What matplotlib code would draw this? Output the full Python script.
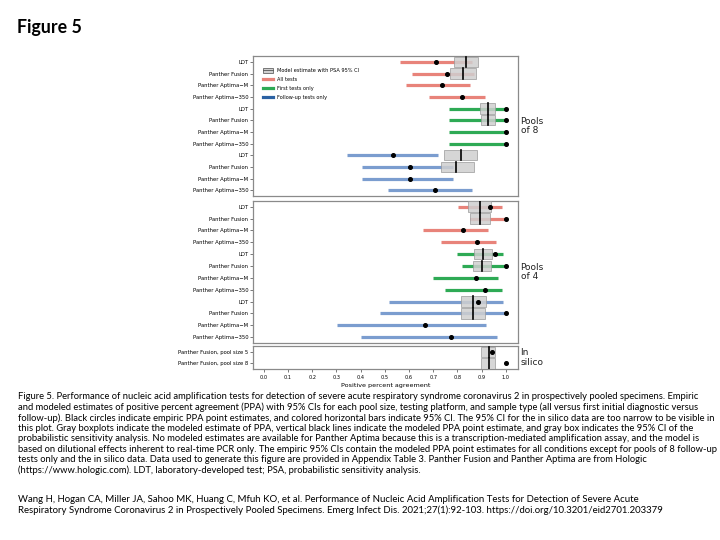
"""Figure 5: empiric vs modeled PPA by pool size, platform and sample type."""
import matplotlib
import numpy as np

matplotlib.use('Agg')
import matplotlib.pyplot as plt
from matplotlib.lines import Line2D
from matplotlib.patches import Patch

nan = np.nan

platforms = ['LDT', 'Panther Fusion', 'Panther Aptima\u2212M', 'Panther Aptima\u2212350']
groups = ['All tests', 'First tests only', 'Follow-up tests only']

# pools of 8 -- rows: all (4), first (4), follow-up (4)
p8_ci_lo = [0.562, 0.610, 0.589, 0.682, 0.763, 0.763, 0.763, 0.763, 0.342, 0.407, 0.407, 0.512]
p8_ci_hi = [0.860, 0.868, 0.852, 0.913, 1.000, 1.000, 1.000, 1.000, 0.720, 0.780, 0.780, 0.861]
p8_point = [0.712, 0.757, 0.735, 0.820, 1.000, 1.000, 1.000, 1.000, 0.533, 0.604, 0.604, 0.709]
p8_mod_lo = [0.786, 0.769, nan, nan, 0.895, 0.897, nan, nan, 0.744, 0.732, nan, nan]
p8_mod_mid = [0.834, 0.822, nan, nan, 0.928, 0.928, nan, nan, 0.815, 0.795, nan, nan]
p8_mod_hi = [0.883, 0.875, nan, nan, 0.955, 0.955, nan, nan, 0.880, 0.867, nan, nan]

# pools of 4
p4_ci_lo = [0.804, 0.853, 0.659, 0.732, 0.800, 0.819, 0.698, 0.747, 0.518, 0.478, 0.302, 0.400]
p4_ci_hi = [0.984, 1.000, 0.927, 0.961, 0.989, 1.000, 0.967, 0.982, 0.988, 1.000, 0.917, 0.964]
p4_point = [0.935, 1.000, 0.823, 0.880, 0.954, 1.000, 0.878, 0.914, 0.883, 1.000, 0.664, 0.773]
p4_mod_lo = [0.842, 0.852, nan, nan, 0.867, 0.863, nan, nan, 0.815, 0.815, nan, nan]
p4_mod_mid = [0.894, 0.894, nan, nan, 0.905, 0.902, nan, nan, 0.863, 0.863, nan, nan]
p4_mod_hi = [0.939, 0.933, nan, nan, 0.944, 0.937, nan, nan, 0.916, 0.913, nan, nan]

# in silico
sil_labels = ['Panther Fusion, pool size 5', 'Panther Fusion, pool size 8']
sil_point = [0.943, 1.000]
sil_mod_lo = [0.899, 0.899]
sil_mod_mid = [0.929, 0.929]
sil_mod_hi = [0.954, 0.954]

xticks = [0.0, 0.1, 0.2, 0.3, 0.4, 0.5, 0.6, 0.7, 0.8, 0.9, 1.0]

caption = (
    "Figure 5. Performance of nucleic acid amplification tests for detection of severe acute respiratory syndrome coronavirus 2 in prospectively pooled specimens. Empiric\n"
    "and modeled estimates of positive percent agreement (PPA) with 95% CIs for each pool size, testing platform, and sample type (all versus first initial diagnostic versus\n"
    "follow-up). Black circles indicate empiric PPA point estimates, and colored horizontal bars indicate 95% CI. The 95% CI for the in silico data are too narrow to be visible in\n"
    "this plot. Gray boxplots indicate the modeled estimate of PPA, vertical black lines indicate the modeled PPA point estimate, and gray box indicates the 95% CI of the\n"
    "probabilistic sensitivity analysis. No modeled estimates are available for Panther Aptima because this is a transcription-mediated amplification assay, and the model is\n"
    "based on dilutional effects inherent to real-time PCR only. The empiric 95% CIs contain the modeled PPA point estimates for all conditions except for pools of 8 follow-up\n"
    "tests only and the in silico data. Data used to generate this figure are provided in Appendix Table 3. Panther Fusion and Panther Aptima are from Hologic\n"
    "(https://www.hologic.com). LDT, laboratory-developed test; PSA, probabilistic sensitivity analysis."
)
citation = (
    "Wang H, Hogan CA, Miller JA, Sahoo MK, Huang C, Mfuh KO, et al. Performance of Nucleic Acid Amplification Tests for Detection of Severe Acute\n"
    "Respiratory Syndrome Coronavirus 2 in Prospectively Pooled Specimens. Emerg Infect Dis. 2021;27(1):92-103. https://doi.org/10.3201/eid2701.203379"
)

colors = ['#E8837A', '#2EAA55', '#7B9DCF']
legend_colors = ['#E8837A', '#2EAA55', '#2B62A3']
BOX_FC = '#cfcfcf'
BOX_EC = '#9a9a9a'
FRAME = '#8a8a8a'
XLIM = (-0.045, 1.05)


def style_panel(ax, labels):
    ax.set_xlim(*XLIM)
    ax.set_ylim(len(labels) - 0.5, -0.5)
    ax.set_yticks(range(len(labels)))
    ax.set_yticklabels(labels, fontsize=3.8)
    ax.tick_params(axis='y', length=2, width=0.5, pad=1.5, color='#444444')
    for s in ax.spines.values():
        s.set_color(FRAME)
        s.set_linewidth(0.9)


def draw_models(ax, lo, mid, hi):
    for i, (a, m, b) in enumerate(zip(lo, mid, hi)):
        if np.isnan(m):
            continue
        ax.add_patch(plt.Rectangle((a, i - 0.45), b - a, 0.9, facecolor=BOX_FC,
                                   edgecolor=BOX_EC, linewidth=0.6, alpha=0.85, zorder=3))
        ax.plot([m, m], [i - 0.45, i + 0.45], color='black', linewidth=1.2, zorder=4)


def draw_pool_panel(ax, lo, hi, pt, mlo, mmid, mhi):
    labels = platforms * 3
    for i in range(len(labels)):
        ax.plot([lo[i], hi[i]], [i, i], color=colors[i // 4], linewidth=2.3,
                solid_capstyle='butt', zorder=2)
    draw_models(ax, mlo, mmid, mhi)
    ax.plot(pt, range(len(pt)), 'o', color='black', markersize=2.6, zorder=5)
    style_panel(ax, labels)
    ax.set_xticks([])


fig = plt.figure(figsize=(7.2, 5.4), dpi=100)
ax1 = fig.add_axes([0.3514, 0.637, 0.368, 0.2593])
ax2 = fig.add_axes([0.3514, 0.3648, 0.368, 0.2635])
ax3 = fig.add_axes([0.3514, 0.3161, 0.368, 0.0431])

draw_pool_panel(ax1, p8_ci_lo, p8_ci_hi, p8_point, p8_mod_lo, p8_mod_mid, p8_mod_hi)
draw_pool_panel(ax2, p4_ci_lo, p4_ci_hi, p4_point, p4_mod_lo, p4_mod_mid, p4_mod_hi)

draw_models(ax3, sil_mod_lo, sil_mod_mid, sil_mod_hi)
ax3.plot(sil_point, range(len(sil_point)), 'o', color='black', markersize=2.6, zorder=5)
style_panel(ax3, sil_labels)
ax3.set_xticks(xticks)
ax3.set_xticklabels([f'{v:.1f}' for v in xticks], fontsize=3.6)
ax3.tick_params(axis='x', length=2, width=0.5, pad=2, color='#444444')
ax3.set_xlabel('Positive percent agreement', fontsize=4.6, labelpad=2)

# legend inside first panel
handles = [(Patch(facecolor=BOX_FC, edgecolor='#666666', linewidth=0.6),
            Line2D([], [], color='#555555', linewidth=0.6))]
handles += [Line2D([], [], color=c, linewidth=2.3) for c in legend_colors]
ax1.legend(handles, ['Model estimate with PSA 95% CI'] + groups, loc='upper left',
           bbox_to_anchor=(0.03, 0.93), frameon=False, fontsize=3.6,
           handlelength=2.0, handleheight=1.2, labelspacing=0.75, handletextpad=0.8,
           borderaxespad=0)

# right-hand panel labels
for ax, txt in [(ax1, 'Pools\nof 8'), (ax2, 'Pools\nof 4'), (ax3, 'In\nsilico')]:
    ax.text(1.01, 0.5, txt, transform=ax.transAxes, ha='left', va='center',
            fontsize=6.5, linespacing=1.1, color='#222222')

fig.text(0.024, 0.949, 'Figure 5', fontsize=12.8, fontweight='bold', family='Lato',
         ha='left', va='center')
fig.text(0.025, 0.274, caption, fontsize=6.75, family='Lato', ha='left',
         va='top', linespacing=1.18)
fig.text(0.025, 0.083, citation, fontsize=6.9, family='Lato', ha='left',
         va='top', linespacing=1.14)

fig.savefig('out.png', dpi=100)
plt.close(fig)
